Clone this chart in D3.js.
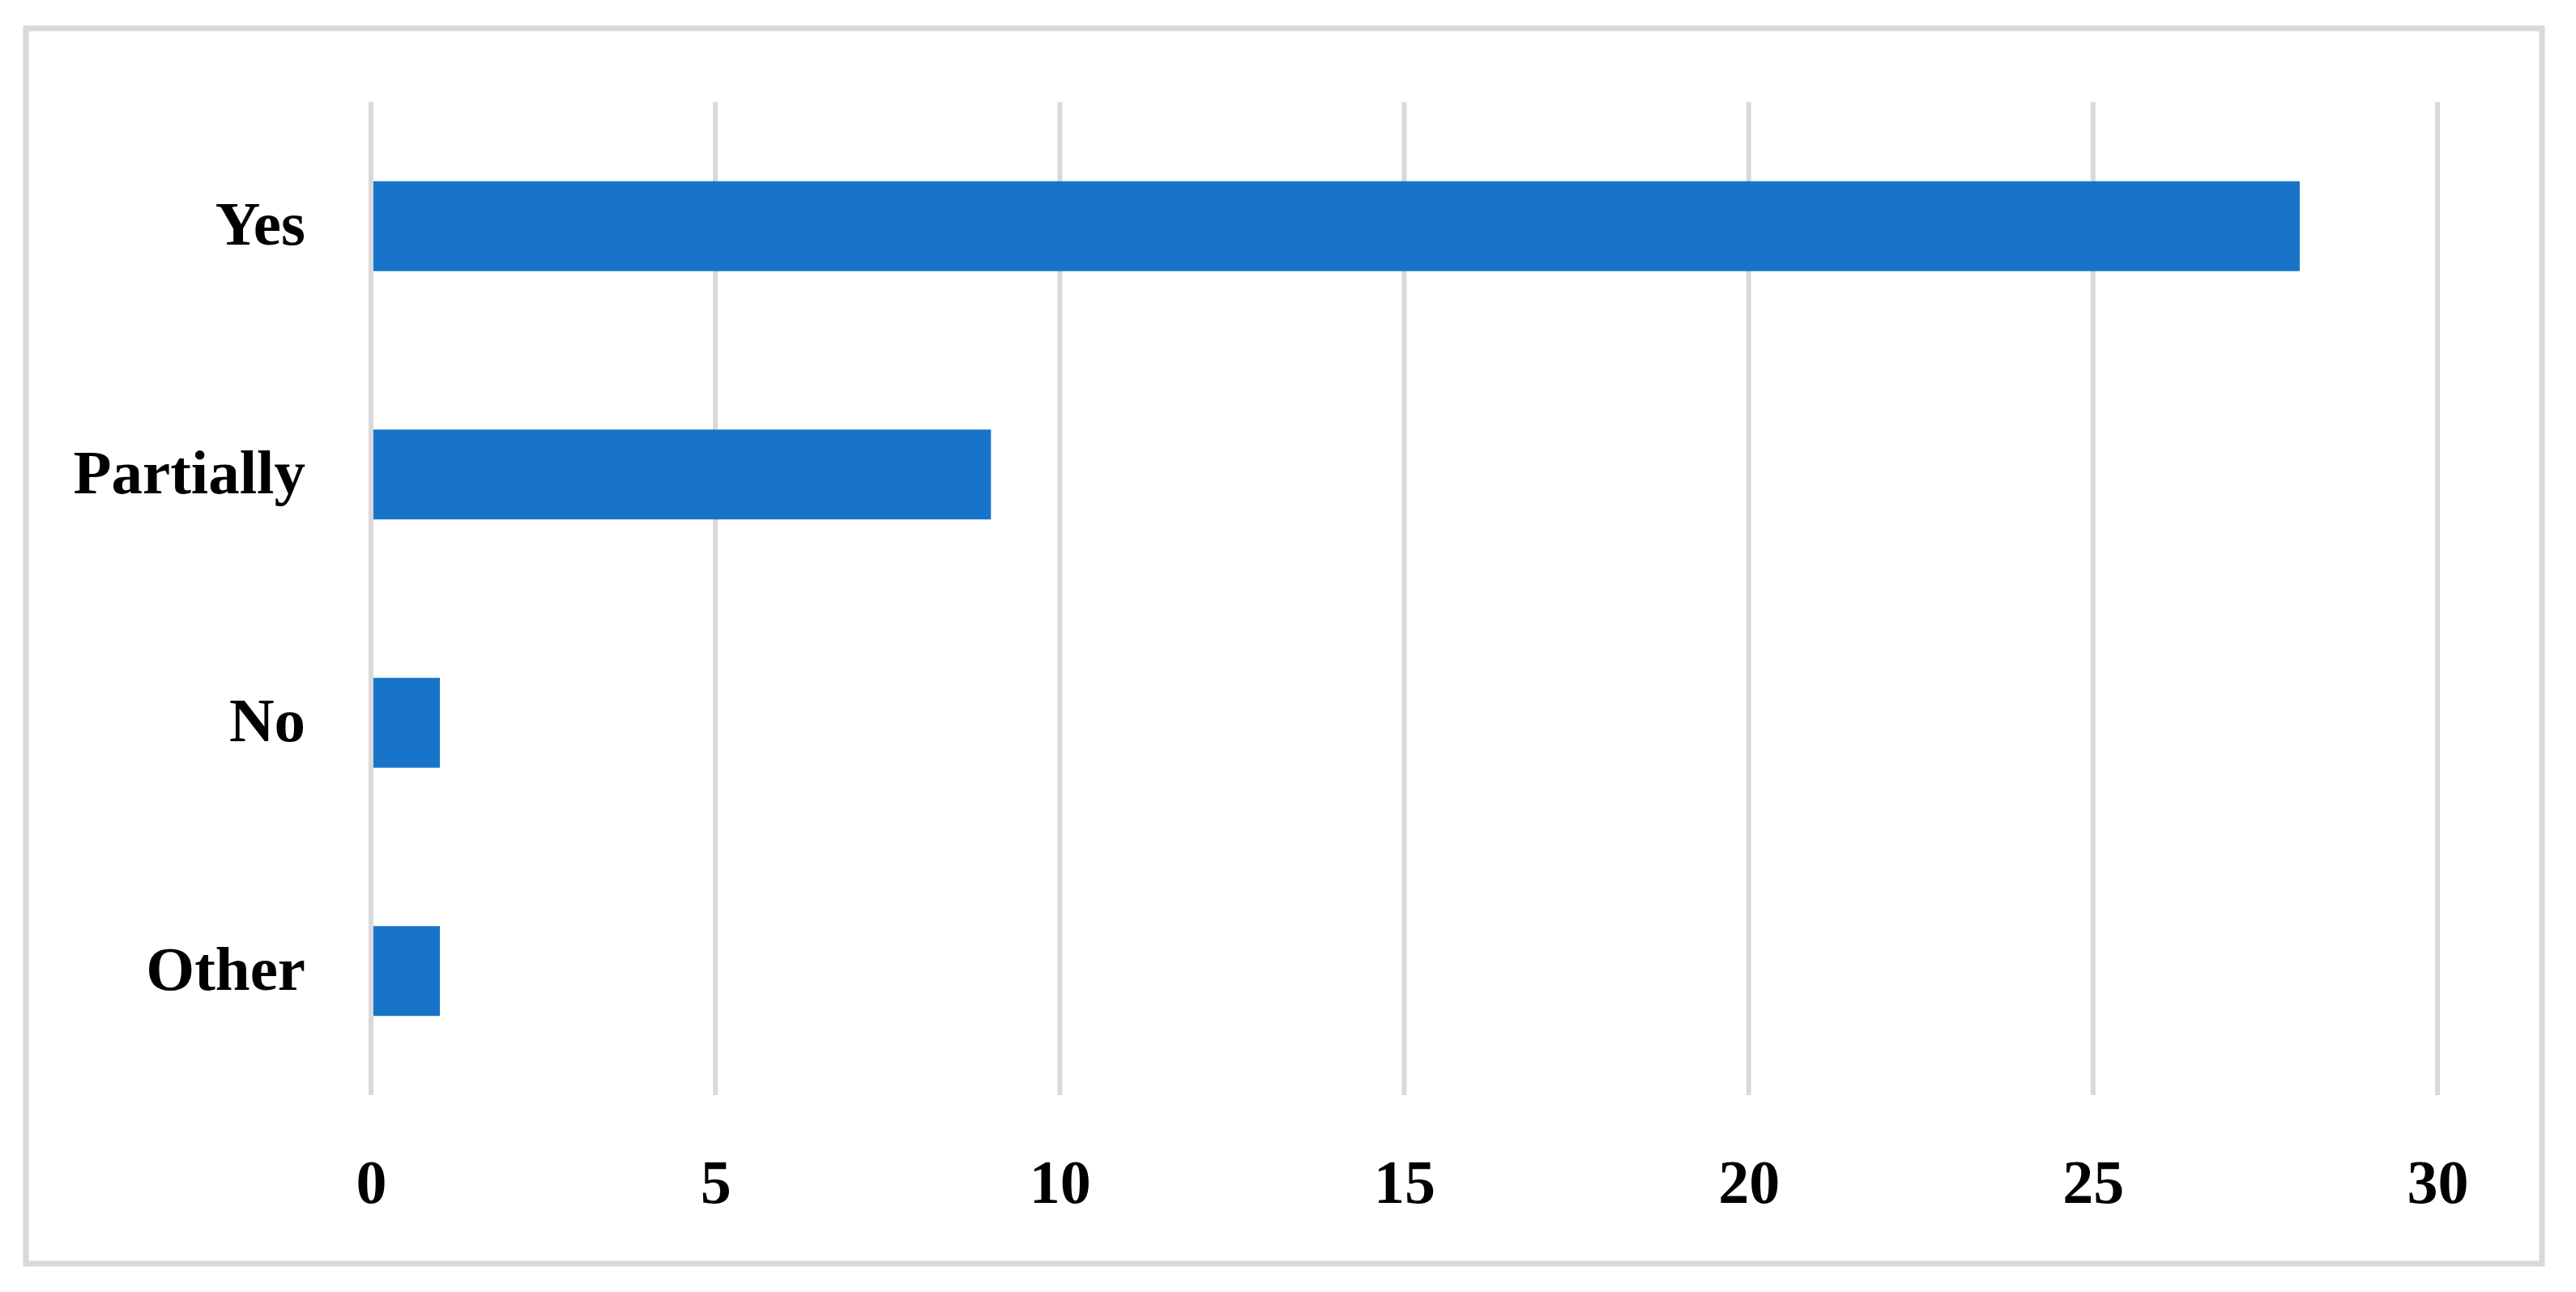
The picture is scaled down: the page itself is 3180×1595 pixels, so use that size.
<!DOCTYPE html>
<html>
<head>
<meta charset="utf-8">
<script src="https://cdn.jsdelivr.net/npm/d3@7"></script>
<style>
  html, body { margin: 0; padding: 0; background: #ffffff; }
  svg { display: block; }
</style>
</head>
<body>
<svg id="chart" width="3180" height="1595"></svg>
<script>
const categories = ["Yes", "Partially", "No", "Other"];
const values = [28, 9, 1, 1];
const xTicks = [0, 5, 10, 15, 20, 25, 30];

const W = 3180, H = 1595;
const margin = { left: 458, right: 3180 - 3009, top: 126, bottom: 1595 - 1352 };
const svg = d3.select("#chart");
const font = "'Liberation Serif', 'Times New Roman', serif";

// outer frame
svg.append("rect")
  .attr("x", 32).attr("y", 35)
  .attr("width", 3138 - 32).attr("height", 1560 - 35)
  .attr("fill", "#ffffff")
  .attr("stroke", "#d9d9d9")
  .attr("stroke-width", 7);

const x = d3.scaleLinear().domain([0, 30]).range([margin.left, W - margin.right]);
const y = d3.scaleBand().domain(categories).range([margin.top, H - margin.bottom]).paddingInner(0.638).paddingOuter(0.319);

// gridlines
svg.append("g").selectAll("line").data(xTicks).join("line")
  .attr("x1", d => x(d)).attr("x2", d => x(d))
  .attr("y1", margin.top).attr("y2", H - margin.bottom)
  .attr("stroke", "#d9d9d9").attr("stroke-width", 6);

// bars
svg.append("g").selectAll("rect").data(categories).join("rect")
  .attr("x", x(0) + 3)
  .attr("y", d => y(d))
  .attr("width", (d, i) => x(values[i]) - x(0) - 3)
  .attr("height", y.bandwidth())
  .attr("fill", "#1874c9");

// x axis labels
const xAxis = d3.axisBottom(x).tickValues(xTicks).tickSize(0).tickPadding(0).tickFormat(d3.format("d"));
const gx = svg.append("g").attr("transform", `translate(0, ${H - margin.bottom})`).call(xAxis);
gx.select(".domain").remove();
gx.selectAll("text")
  .attr("y", 133).attr("dy", 0)
  .attr("font-family", font).attr("font-weight", "bold")
  .attr("font-size", 76).attr("fill", "#000000");

// y axis labels
const yAxis = d3.axisLeft(y).tickSize(0).tickPadding(0);
const gy = svg.append("g").attr("transform", `translate(377, 0)`).call(yAxis);
gy.select(".domain").remove();
gy.selectAll("text")
  .attr("x", 0).attr("dy", "0.3em")
  .attr("text-anchor", "end")
  .attr("font-family", font).attr("font-weight", "bold")
  .attr("font-size", 77).attr("fill", "#000000");
</script>
</body>
</html>
